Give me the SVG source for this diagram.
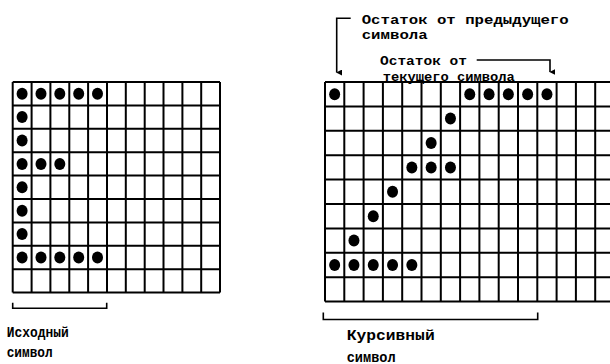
<svg xmlns="http://www.w3.org/2000/svg" width="610" height="364" viewBox="0 0 610 364">
<defs>
<style>
.grid{fill:none;stroke:#000;stroke-width:2}
.dot{fill:#000}
.lbl{font-family:"Liberation Mono","DejaVu Sans Mono",monospace;font-weight:bold;fill:#000}
.top{font-size:13.5px}
.bot{font-size:14.5px}
.con{fill:none;stroke:#000;stroke-width:1.6}
</style>
<marker id="arr" viewBox="0 0 10 10" refX="5" refY="9" markerWidth="6" markerHeight="6" orient="auto-start-reverse" markerUnits="userSpaceOnUse">
<path d="M0 0 L10 0 L5 10 Z" fill="#000"/>
</marker>
</defs>
<rect width="610" height="364" fill="#fff"/>

<g id="source-grid">
<path class="grid" d="M12.7 82V292.6M31.6 82V292.6M50.4 82V292.6M69.3 82V292.6M88.1 82V292.6M107 82V292.6M125.8 82V292.6M144.7 82V292.6M163.5 82V292.6M182.4 82V292.6M201.2 82V292.6M220 82V292.6M12.7 82H220M12.7 105.4H220M12.7 128.8H220M12.7 152.2H220M12.7 175.6H220M12.7 199H220M12.7 222.4H220M12.7 245.8H220M12.7 269.2H220M12.7 292.6H220"/>
<g class="dot">
<ellipse cx="22.1" cy="93.7" rx="5.5" ry="6"/><ellipse cx="41" cy="93.7" rx="5.5" ry="6"/><ellipse cx="59.8" cy="93.7" rx="5.5" ry="6"/><ellipse cx="78.7" cy="93.7" rx="5.5" ry="6"/><ellipse cx="97.5" cy="93.7" rx="5.5" ry="6"/>
<ellipse cx="22.1" cy="117.1" rx="5.5" ry="6"/>
<ellipse cx="22.1" cy="140.5" rx="5.5" ry="6"/>
<ellipse cx="22.1" cy="163.9" rx="5.5" ry="6"/><ellipse cx="41" cy="163.9" rx="5.5" ry="6"/><ellipse cx="59.8" cy="163.9" rx="5.5" ry="6"/>
<ellipse cx="22.1" cy="187.3" rx="5.5" ry="6"/>
<ellipse cx="22.1" cy="210.7" rx="5.5" ry="6"/>
<ellipse cx="22.1" cy="234.1" rx="5.5" ry="6"/>
<ellipse cx="22.1" cy="257.5" rx="5.5" ry="6"/><ellipse cx="41" cy="257.5" rx="5.5" ry="6"/><ellipse cx="59.8" cy="257.5" rx="5.5" ry="6"/><ellipse cx="78.7" cy="257.5" rx="5.5" ry="6"/><ellipse cx="97.5" cy="257.5" rx="5.5" ry="6"/>
</g>
</g>

<g id="italic-grid">
<path class="grid" d="M325 82V301.6M344.3 82V301.6M363.6 82V301.6M382.9 82V301.6M402.2 82V301.6M421.5 82V301.6M440.8 82V301.6M460.1 82V301.6M479.4 82V301.6M498.7 82V301.6M518 82V301.6M537.3 82V301.6M556.6 82V301.6M575.9 82V301.6M595.2 82V301.6M614.5 82V301.6M325 82H614.5M325 106.4H614.5M325 130.8H614.5M325 155.2H614.5M325 179.6H614.5M325 204H614.5M325 228.4H614.5M325 252.8H614.5M325 277.2H614.5M325 301.6H614.5"/>
<g class="dot">
<ellipse cx="334.65" cy="94.2" rx="5.5" ry="6"/><ellipse cx="469.75" cy="94.2" rx="5.5" ry="6"/><ellipse cx="489.05" cy="94.2" rx="5.5" ry="6"/><ellipse cx="508.35" cy="94.2" rx="5.5" ry="6"/><ellipse cx="527.65" cy="94.2" rx="5.5" ry="6"/><ellipse cx="546.95" cy="94.2" rx="5.5" ry="6"/>
<ellipse cx="450.45" cy="118.6" rx="5.5" ry="6"/>
<ellipse cx="431.15" cy="143" rx="5.5" ry="6"/>
<ellipse cx="411.85" cy="167.4" rx="5.5" ry="6"/><ellipse cx="431.15" cy="167.4" rx="5.5" ry="6"/><ellipse cx="450.45" cy="167.4" rx="5.5" ry="6"/>
<ellipse cx="392.55" cy="191.8" rx="5.5" ry="6"/>
<ellipse cx="373.25" cy="216.2" rx="5.5" ry="6"/>
<ellipse cx="353.95" cy="240.6" rx="5.5" ry="6"/>
<ellipse cx="334.65" cy="265" rx="5.5" ry="6"/><ellipse cx="353.95" cy="265" rx="5.5" ry="6"/><ellipse cx="373.25" cy="265" rx="5.5" ry="6"/><ellipse cx="392.55" cy="265" rx="5.5" ry="6"/><ellipse cx="411.85" cy="265" rx="5.5" ry="6"/>
</g>
</g>

<g id="connectors">
<path class="con" d="M12.7 302.7V308.3H106.7V302.7"/>
<path class="con" d="M323.3 312.5V319.5H537.7V312.5"/>
<path class="con" d="M350.7 18.3H336.7V72.5" marker-end="url(#arr)"/>
<path class="con" d="M476.7 60H550V72" marker-end="url(#arr)"/>
</g>

<g id="labels">
<text class="lbl top" x="361.7" y="23.5" textLength="207" lengthAdjust="spacingAndGlyphs">Остаток от предыдущего</text>
<text class="lbl top" x="361.7" y="39" textLength="66" lengthAdjust="spacingAndGlyphs">символа</text>
<text class="lbl top" x="380" y="64.5" textLength="87" lengthAdjust="spacingAndGlyphs">Остаток от</text>
<text class="lbl top" x="382.7" y="81" textLength="132" lengthAdjust="spacingAndGlyphs">текущего символа</text>
<text class="lbl bot" x="6.7" y="337" textLength="62" lengthAdjust="spacingAndGlyphs">Исходный</text>
<text class="lbl bot" x="6.7" y="357" textLength="46" lengthAdjust="spacingAndGlyphs">символ</text>
<text class="lbl bot" x="346.7" y="340" textLength="88" lengthAdjust="spacingAndGlyphs">Курсивный</text>
<text class="lbl bot" x="346.7" y="361.5" textLength="49" lengthAdjust="spacingAndGlyphs">символ</text>
</g>
</svg>
